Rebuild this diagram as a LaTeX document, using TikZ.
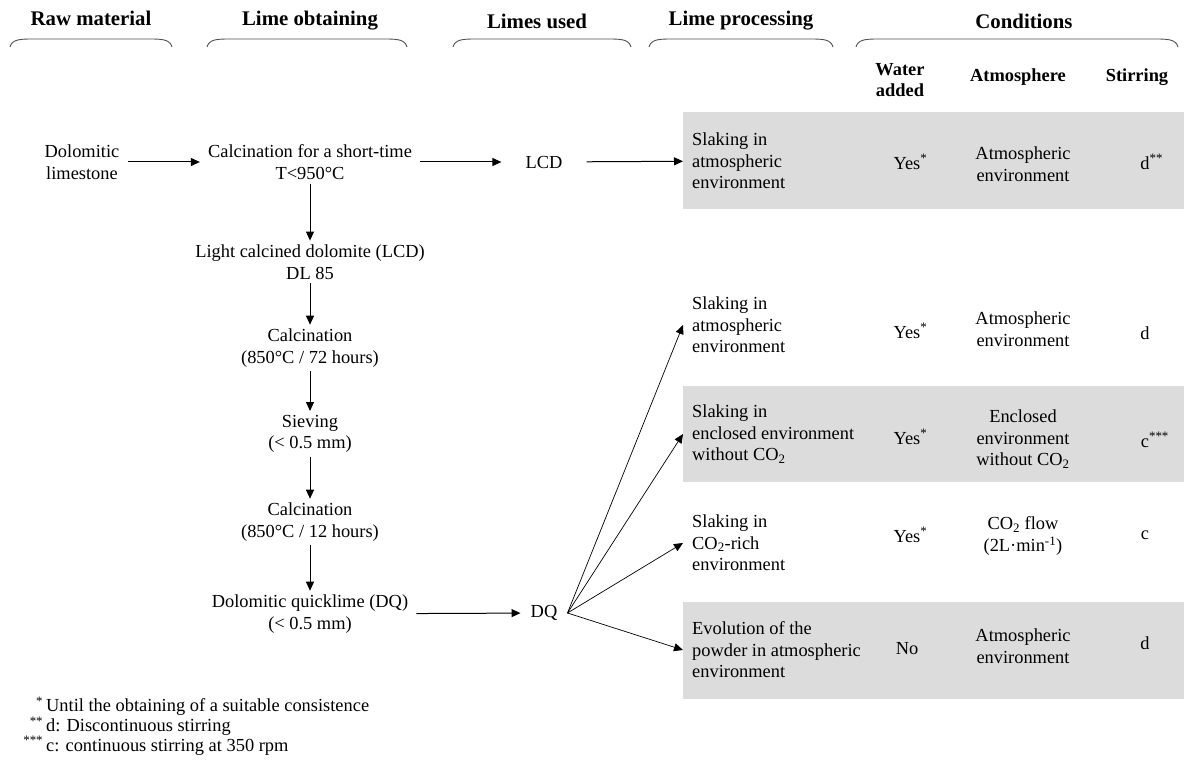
\documentclass[tikz,border=0pt]{standalone}
\usepackage{fontspec}
\setmainfont{Liberation Serif}
\usepackage{tikz}
\usetikzlibrary{arrows.meta}
\definecolor{band}{HTML}{DCDCDC}
\definecolor{rule}{HTML}{505050}

\begin{document}
\begin{tikzpicture}[
    x=1pt,y=-1pt,
    txt/.style={align=center,font=\fontsize{18.4}{21.5}\selectfont,inner xsep=8pt,inner ysep=4pt},
    head/.style={font=\fontsize{20.8}{24}\selectfont\bfseries,inner sep=0pt},
    subhead/.style={align=center,font=\fontsize{18.4}{21}\selectfont\bfseries,inner sep=0pt},
    proc/.style={txt,align=left,anchor=west,inner xsep=9pt},
    cond/.style={txt,inner sep=0pt},
    notes/.style={align=left,anchor=west,inner sep=0pt,font=\fontsize{18.4}{18}\selectfont},
    arrow/.style={-{Triangle[length=9pt,width=8pt]},line width=1pt},
    fan/.style={-{Triangle[length=9pt,width=8pt]},line width=0.7pt},
    bracket/.style={draw=rule,line width=0.9pt}
  ]
    \useasboundingbox (0,0) rectangle (1184,770);

    % shaded rows
    \fill[band] (683,112) rectangle (1184,209);
    \fill[band] (683,386) rectangle (1184,482);
    \fill[band] (683,602) rectangle (1184,699);

    % column headers
    \node[head] (hraw) at (91,18) {Raw material};
    \node[head] (hobt) at (310,21) {Lime obtaining};
    \node[head] (hused) at (537,21) {Limes used};
    \node[head] (hproc) at (741,21) {Lime processing};
    \node[head] (hcond) at (1024,21) {Conditions};
    \foreach \a/\b in {10/172,207/407,453/631,649/833,856/1178}
      \draw[bracket] (\a,47) .. controls (\a+2,40) and (\a+8,39) .. (\a+22,39) -- (\b-22,39)
        .. controls (\b-8,39) and (\b-2,40) .. (\b,47);

    \node[subhead] (hwater) at (900,80) {Water\\added};
    \node[subhead] (hatm) at (1018,77) {Atmosphere};
    \node[subhead] (hstir) at (1137,77) {Stirring};

    % lime obtaining chain
    \node[txt] (dolo) at (82,162) {Dolomitic\\limestone};
    \node[txt] (short) at (310,162) {Calcination for a short-time\\T<950°C};
    \node[txt,inner xsep=24pt] (lcd) at (544,162) {LCD};
    \node[txt] (lcdfull) at (310,262) {Light calcined dolomite (LCD)\\DL 85};
    \node[txt] (calc72) at (310,348) {Calcination\\(850°C / 72 hours)};
    \node[txt] (sieve) at (310,434) {Sieving\\(< 0.5 mm)};
    \node[txt] (calc12) at (310,522) {Calcination\\(850°C / 12 hours)};
    \node[txt] (quick) at (310,614) {Dolomitic quicklime (DQ)\\(< 0.5 mm)};
    \node[txt,inner xsep=10pt] (dq) at (544,613) {DQ};

    % processing
    \node[proc] (proc1) at (683,161) {Slaking in\\atmospheric\\environment};
    \node[proc] (proc2) at (683,325) {Slaking in\\atmospheric\\environment};
    \node[proc] (proc3) at (683,434) {Slaking in\\enclosed environment\\without CO\textsubscript{2}};
    \node[proc] (proc4) at (683,543) {Slaking in\\CO\textsubscript{2}-rich\\environment};
    \node[proc] (proc5) at (683,650) {Evolution of the\\powder in atmospheric\\environment};

    % conditions
    \node[cond] (water1) at (907,162) {Yes\rlap{\textsuperscript{*}}};
    \node[cond] (water2) at (907,331) {Yes\rlap{\textsuperscript{*}}};
    \node[cond] (water3) at (907,437) {Yes\rlap{\textsuperscript{*}}};
    \node[cond] (water4) at (907,535) {Yes\rlap{\textsuperscript{*}}};
    \node[cond] (water5) at (907,649) {No};
    \node[cond] (atm1) at (1023,164) {Atmospheric\\environment};
    \node[cond] (atm2) at (1023,329) {Atmospheric\\environment};
    \node[cond] (atm3) at (1023,439) {Enclosed\\environment\\without CO\textsubscript{2}};
    \node[cond] (atm4) at (1023,536) {CO\textsubscript{2} flow\\(2L·min\textsuperscript{-1})};
    \node[cond] (atm5) at (1023,646) {Atmospheric\\environment};
    \node[cond] (stir1) at (1145,162) {d\rlap{\textsuperscript{**}}};
    \node[cond] (stir2) at (1145,333) {d};
    \node[cond] (stir3) at (1145,440) {c\rlap{\textsuperscript{***}}};
    \node[cond] (stir4) at (1145,535) {c};
    \node[cond] (stir5) at (1145,643) {d};

    % footnotes
    \node[notes] (notes) at (46,726) {\llap{\textsuperscript{*}\,}Until the obtaining of a suitable consistence\\
      \llap{\textsuperscript{**}\,}d: Discontinuous stirring\\
      \llap{\textsuperscript{***}\,}c: continuous stirring at 350 rpm};

    \draw[arrow] (dolo) -- (short);
    \draw[arrow] (short) -- (lcd);
    \draw[arrow] (lcd) -- (proc1);
    \draw[arrow] (short) -- (lcdfull);
    \draw[arrow] (lcdfull) -- (calc72);
    \draw[arrow] (calc72) -- (sieve);
    \draw[arrow] (sieve) -- (calc12);
    \draw[arrow] (calc12) -- (quick);
    \draw[arrow] (quick) -- (dq);
    \foreach \t in {proc2,proc3,proc4,proc5}
      \draw[fan] (dq.east) -- (\t.west);
  \end{tikzpicture}
\end{document}
